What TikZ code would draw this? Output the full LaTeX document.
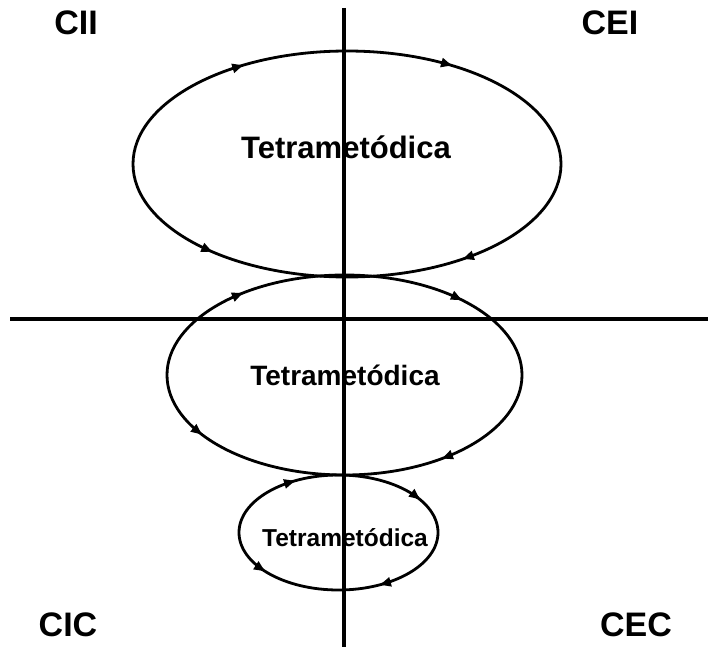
\documentclass[tikz,border=0pt]{standalone}
\usepackage{fontspec}
\setmainfont{Liberation Sans}
\usetikzlibrary{arrows.meta}
\begin{document}
\begin{tikzpicture}[x=1pt,y=-1pt,>={Triangle[length=11pt,width=9pt]}]
  \tikzstyle{quad}=[font=\bfseries\fontsize{34}{40}\selectfont, inner sep=0pt]
  \tikzstyle{tetra}=[inner sep=0pt]
  \tikzstyle{axis}=[line width=3.2pt]
  \tikzstyle{loop}=[line width=2.8pt]

  \useasboundingbox (0,0) rectangle (708,647);

  % axes
  \draw[axis] (344,8) -- (344,647);
  \draw[axis] (10,319) -- (708,319);

  % quadrants
  \node[quad] (cii) at (76,23) {CII};
  \node[quad] (cei) at (610,23) {CEI};
  \node[quad] (cic) at (68,625) {CIC};
  \node[quad] (cec) at (636,625) {CEC};

  % loops
  \draw[loop] (347,164) ellipse [x radius=214, y radius=113];
  \draw[loop] (344.5,375) ellipse [x radius=177.5, y radius=100];
  \draw[loop] (338.5,532.5) ellipse [x radius=99.5, y radius=57.5];

  \node[tetra, font=\bfseries\fontsize{31}{36}\selectfont] (t1) at (346,147) {Tetrametódica};
  \node[tetra, font=\bfseries\fontsize{28}{33}\selectfont] (t2) at (345,375) {Tetrametódica};
  \node[tetra, font=\bfseries\fontsize{24.5}{29}\selectfont] (t3) at (345,538) {Tetrametódica};

  % arrowheads: centre, radii, angle, direction
  \foreach \cx/\cy/\rx/\ry/\t/\s in {
      347/164/214/113/-119/1, 347/164/214/113/-60.6/1,
      347/164/214/113/129/-1, 347/164/214/113/57.2/1,
      344.5/375/177.5/100/-124.9/1, 344.5/375/177.5/100/-48.6/1,
      344.5/375/177.5/100/143.4/-1, 344.5/375/177.5/100/56.7/1,
      338.5/532.5/99.5/57.5/-115.9/1, 338.5/532.5/99.5/57.5/-35/1,
      338.5/532.5/99.5/57.5/137.6/-1, 338.5/532.5/99.5/57.5/65.4/1}
    \draw[loop,->] ({\cx+\rx*cos(\t-\s*2)},{\cy+\ry*sin(\t-\s*2)})
      -- ({\cx+\rx*cos(\t)},{\cy+\ry*sin(\t)});
\end{tikzpicture}
\end{document}
